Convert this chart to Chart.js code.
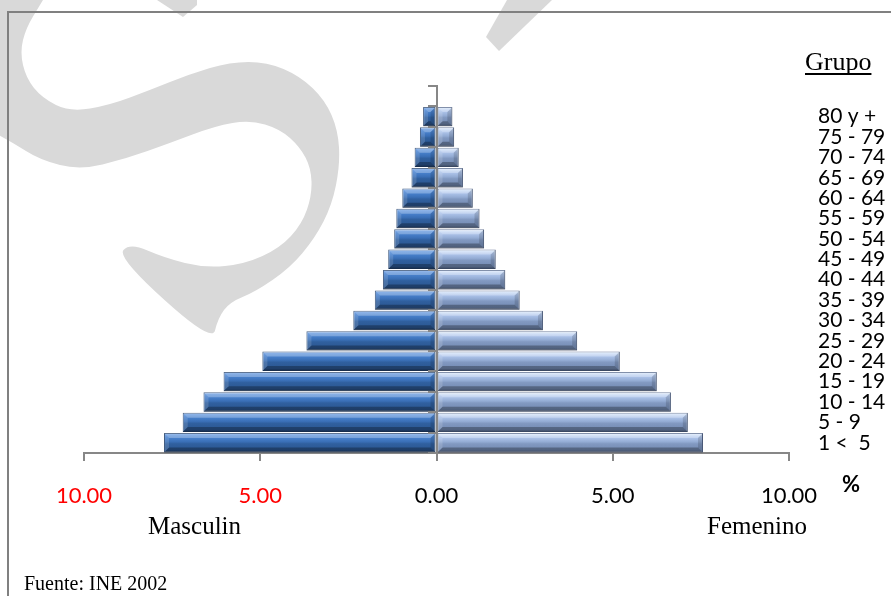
<!DOCTYPE html>
<html>
<head>
<meta charset="utf-8">
<script src="https://cdn.jsdelivr.net/npm/chart.js@4.4.1/dist/chart.umd.min.js"></script>
<style>
  html, body { margin: 0; padding: 0; background: #fff; }
  #wrap { width: 891px; height: 596px; position: relative; }
</style>
</head>
<body>
<div id="wrap"><canvas id="myChart" width="891" height="596"></canvas></div>
<script>
// age groups, top row left blank as in the original sheet
const groups = ['', '80 y +', '75 - 79', '70 - 74', '65 - 69', '60 - 64', '55 - 59', '50 - 54',
    '45 - 49', '40 - 44', '35 - 39', '30 - 34', '25 - 29', '20 - 24', '15 - 19', '10 - 14', '5 - 9', '1 <  5']
// percent of population
const masculino = [null, 0.38, 0.47, 0.62, 0.71, 0.97, 1.14, 1.20, 1.37, 1.52, 1.75, 2.36, 3.69, 4.94, 6.04, 6.61, 7.20, 7.73]
const femenino = [null, 0.45, 0.50, 0.63, 0.75, 1.03, 1.22, 1.35, 1.68, 1.95, 2.36, 3.02, 3.99, 5.20, 6.25, 6.65, 7.13, 7.56]
const xTicks = [-10, -5, 0, 5, 10]

const axisGray = '#878787'

function barGradient(stops) {
    return function (ctx) {
        const chart = ctx.chart
        const area = chart.chartArea
        if (!area) return stops[3][1]
        const yc = chart.scales.y.getPixelForValue(ctx.dataIndex)
        const h = area.height / groups.length * 0.95
        const g = chart.ctx.createLinearGradient(0, yc - h / 2, 0, yc + h / 2)
        stops.forEach(s => g.addColorStop(s[0], s[1]))
        return g
    }
}

const maleStops = [[0, '#86b0e8'], [0.1, '#5a91dc'], [0.22, '#4a83cf'], [0.45, '#3a6fb6'],
    [0.55, '#30609f'], [0.88, '#2b5690'], [1, '#1c375f']]
const femaleStops = [[0, '#e6f0fd'], [0.1, '#c9dbf5'], [0.22, '#b0c6ec'], [0.45, '#94acd4'],
    [0.55, '#8299c1'], [0.88, '#7289b1'], [1, '#4c5d7d']]

// outline of the grey "S" mark behind the chart
const sShape = [[-20, -20], [55, -20], [40, 5], [26, 28], [20, 52], [26, 78], [42, 98], [70, 112],
    [110, 105], [150, 90], [190, 74], [230, 62], [267, 62], [300, 76], [325, 100],
    [338, 130], [340, 165], [332, 205], [315, 238], [290, 268], [255, 292], [230, 302],
    [218, 318], [212, 343], [117, 257], [130, 243], [165, 258], [205, 268], [245, 264],
    [280, 248], [302, 224], [312, 195], [311, 168], [300, 147], [280, 129], [250, 120],
    [215, 126], [170, 143], [125, 159], [80, 170], [40, 160], [12, 142], [-20, 125]]

function fillSmooth(c, pts) {
    const n = pts.length
    const mid = (a, b) => [(a[0] + b[0]) / 2, (a[1] + b[1]) / 2]
    const start = mid(pts[n - 1], pts[0])
    c.beginPath()
    c.moveTo(start[0], start[1])
    for (let i = 0; i < n; i++) {
        const m = mid(pts[i], pts[(i + 1) % n])
        c.quadraticCurveTo(pts[i][0], pts[i][1], m[0], m[1])
    }
    c.closePath()
    c.fill()
}

function fillPoly(c, pts) {
    c.beginPath()
    pts.forEach((p, i) => i ? c.lineTo(p[0], p[1]) : c.moveTo(p[0], p[1]))
    c.closePath()
    c.fill()
}

// light grey watermark and page frame
const backdrop = {
    id: 'backdrop',
    beforeDraw(chart) {
        const c = chart.ctx
        c.save()
        c.fillStyle = '#fff'
        c.fillRect(0, 0, chart.width, chart.height)
        c.fillStyle = '#d9d9d9'
        fillSmooth(c, sShape)
        fillPoly(c, [[157, 0], [197, 0], [197, 5], [183, 17]])
        fillPoly(c, [[507, 0], [552, 0], [499, 51], [486, 37]])
        // frame
        c.strokeStyle = '#808080'
        c.lineWidth = 2
        c.beginPath()
        c.moveTo(8, 596); c.lineTo(8, 12); c.lineTo(891, 12)
        c.stroke()
        c.restore()
    }
}

// bevel facets on every bar element
const bevel = {
    id: 'bevel',
    afterDatasetsDraw(chart) {
        const c = chart.ctx
        chart.data.datasets.forEach((ds, i) => {
            chart.getDatasetMeta(i).data.forEach(bar => {
                const p = bar.getProps(['x', 'y', 'base', 'height'], true)
                if (!isFinite(p.x) || !isFinite(p.base) || p.x === p.base) return
                const l = Math.min(p.x, p.base), r = Math.max(p.x, p.base)
                const t = p.y - p.height / 2, b = p.y + p.height / 2
                const e = Math.min(5, (r - l) / 2)
                c.save()
                c.fillStyle = 'rgba(255,255,255,0.28)'
                c.beginPath(); c.moveTo(l, t); c.lineTo(r, t); c.lineTo(r - e, t + e); c.lineTo(l + e, t + e); c.closePath(); c.fill()
                c.fillStyle = 'rgba(0,0,0,0.28)'
                c.beginPath(); c.moveTo(l, b); c.lineTo(r, b); c.lineTo(r - e, b - e); c.lineTo(l + e, b - e); c.closePath(); c.fill()
                c.fillStyle = 'rgba(255,255,255,0.14)'
                c.beginPath(); c.moveTo(l, t); c.lineTo(l + e, t + e); c.lineTo(l + e, b - e); c.lineTo(l, b); c.closePath(); c.fill()
                c.fillStyle = 'rgba(0,0,0,0.14)'
                c.beginPath(); c.moveTo(r, t); c.lineTo(r - e, t + e); c.lineTo(r - e, b - e); c.lineTo(r, b); c.closePath(); c.fill()
                c.restore()
            })
        })
    }
}

const labelsPlugin = {
    id: 'texts',
    afterDraw(chart) {
        const c = chart.ctx
        c.save()
        c.fillStyle = '#000'
        c.textBaseline = 'alphabetic'
        c.font = '26px "Liberation Serif"'
        c.textAlign = 'left'
        c.fillText('Grupo', 805, 70)
        const w = c.measureText('Grupo').width
        c.fillRect(805, 73, w, 2)
        c.font = 'bold 22px Lato'
        c.fillText('%', 842, 492)
        c.font = '25px "Liberation Serif"'
        c.fillText('Masculin', 148, 534)
        c.textAlign = 'right'
        c.fillText('Femenino', 807, 534)
        c.textAlign = 'left'
        c.font = '20px "Liberation Serif"'
        c.fillText('Fuente: INE 2002', 24, 590)
        c.restore()
    }
}

const ctx = document.getElementById('myChart')

const myChart = new Chart(ctx, {
    type: 'bar',
    data: {
        labels: groups,
        datasets: [{
            label: 'Masculin',
            data: masculino.map(v => v === null ? null : -v),
            backgroundColor: barGradient(maleStops),
            borderColor: '#22406b',
            borderWidth: 1,
            borderSkipped: false,
            categoryPercentage: 1,
            barPercentage: 0.95
        }, {
            label: 'Femenino',
            data: femenino,
            backgroundColor: barGradient(femaleStops),
            borderColor: '#53668a',
            borderWidth: 1,
            borderSkipped: false,
            categoryPercentage: 1,
            barPercentage: 0.95
        }]
    },
    options: {
        indexAxis: 'y',
        responsive: false,
        animation: false,
        events: [],
        layout: { padding: { left: 84, top: 86, right: 0, bottom: 0 } },
        plugins: {
            legend: { display: false },
            tooltip: { enabled: false }
        },
        scales: {
            x: {
                min: -10,
                max: 10,
                stacked: true,
                afterBuildTicks: axis => { axis.ticks = xTicks.map(v => ({ value: v })) },
                afterFit: axis => { axis.height = 143 },
                ticks: {
                    padding: 22,
                    maxRotation: 0,
                    font: { family: 'Lato', size: 22 },
                    color: c => c.tick.value < 0 ? '#ff0000' : '#000000',
                    callback: v => Math.abs(v).toFixed(2)
                },
                grid: { drawOnChartArea: false, drawTicks: true, tickLength: 8, color: axisGray, lineWidth: 2 },
                border: { display: true, color: axisGray, width: 2 }
            },
            y: {
                position: 'right',
                stacked: true,
                afterFit: axis => { axis.width = 102 },
                ticks: {
                    crossAlign: 'near',
                    padding: 29,
                    autoSkip: false,
                    font: { family: 'Lato', size: 21 },
                    color: '#000'
                },
                grid: { display: false, drawTicks: false },
                border: { display: false }
            },
            y2: {
                type: 'category',
                axis: 'y',
                labels: groups,
                offset: true,
                position: { x: 0 },
                ticks: { display: false },
                grid: { offset: true, drawOnChartArea: false, drawTicks: true, tickLength: 8, color: axisGray, lineWidth: 2, z: 1 },
                border: { display: true, color: axisGray, width: 2, z: 1 }
            }
        }
    },
    plugins: [backdrop, bevel, labelsPlugin]
})
</script>
</body>
</html>
